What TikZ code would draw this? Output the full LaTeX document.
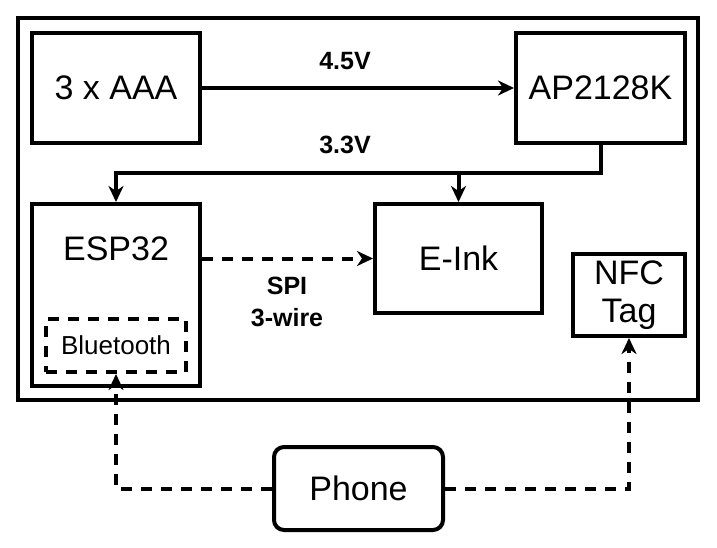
\documentclass[tikz,border=0pt]{standalone}
\usepackage{fontspec}
\setmainfont{Liberation Sans}
\usetikzlibrary{arrows.meta}

\begin{document}
\begin{tikzpicture}[x=1pt,y=-1pt]
\tikzstyle{box}=[draw,line width=4pt,font=\fontsize{34}{38}\selectfont,align=center,inner sep=0pt];
\tikzstyle{arrow}=[-{Stealth[length=16pt,width=15pt,inset=5pt]},line width=4pt];
\tikzstyle{dashline}=[dash pattern=on 11pt off 9pt];
\tikzstyle{lbl}=[font=\bfseries\fontsize{25}{32}\selectfont,align=center];
\useasboundingbox (0,0) rectangle (717,548);
\draw [line width=4pt] (18,18) rectangle (698,400);
\node (1) [box,minimum width=168pt,minimum height=110pt] at (116,88) {3 x AAA};
\node (2) [box,minimum width=169pt,minimum height=110pt] at (600.5,88) {AP2128K};
\node (3) [box,minimum width=168pt,minimum height=182pt,
  label={[anchor=center,yshift=-47pt,font=\fontsize{34}{38}\selectfont]north:ESP32}] at (116,295) {};
\node (4) [box,minimum width=167pt,minimum height=109pt] at (458.5,258.5) {E-Ink};
\node (5) [box,minimum width=112pt,minimum height=82pt] at (629,295) {NFC\\Tag};
\node (6) [box,dashline,minimum width=140pt,minimum height=53pt,font=\fontsize{26}{30}\selectfont] at (116,345.5) {Bluetooth};
\node (7) [box,rounded corners=10pt,minimum width=169pt,minimum height=83pt] at (358.5,488.5) {Phone};
\coordinate (b) at (600.5,173);
\draw [arrow] (1) -- (2);
\node (u) [lbl] at (345,61) {4.5V};
\draw [arrow] (2.south) -- (b) -| (3.north);
\draw [arrow] (4.north |- b) -- (4.north);
\node (v) [lbl] at (345,145) {3.3V};
\draw [arrow,dashline] (3.east |- 4.west) -- (4.west);
\node (s) [lbl] at (287,302) {SPI\\3-wire};
\draw [arrow,dashline] (7.west) -| (6.south);
\draw [arrow,dashline] (7.east) -| (5.south);
\end{tikzpicture}
\end{document}
